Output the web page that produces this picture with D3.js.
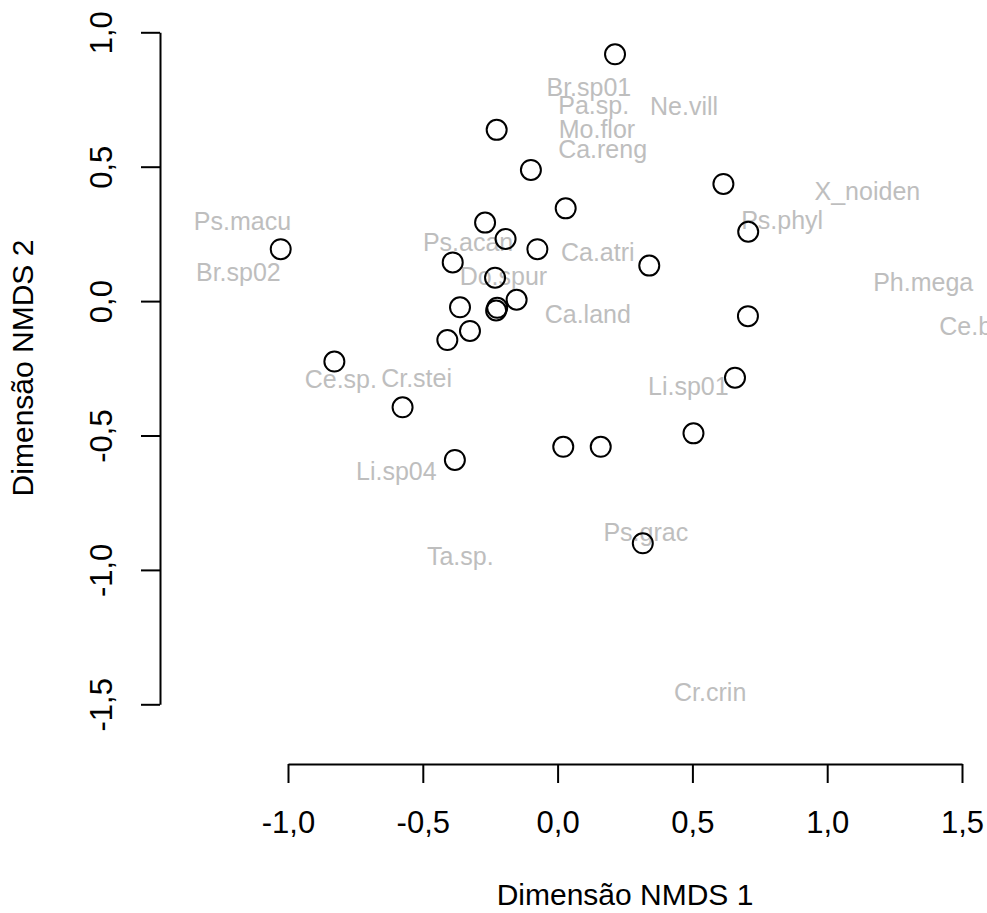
<!DOCTYPE html>
<html>
<head>
<meta charset="utf-8">
<script src="https://cdn.jsdelivr.net/npm/d3@7"></script>
<style>
  body { margin: 0; background: #fff; }
  svg { display: block; }
  text { font-family: "Liberation Sans", Arial, Helvetica, sans-serif; }
</style>
</head>
<body>
<div id="root"></div>
<script>
// site scores (NMDS 1, NMDS 2)
const siteX = [-1.027, -0.226, -0.099, 0.030, -0.269, -0.193, -0.075, -0.389, -0.232, -0.152,
  -0.362, -0.224, -0.228, -0.325, -0.409, -0.828, -0.575, -0.381, 0.021, 0.160,
  0.504, 0.658, 0.706, 0.316, 0.213, 0.615, 0.707, 0.340];
const siteY = [0.193, 0.637, 0.488, 0.345, 0.292, 0.231, 0.193, 0.144, 0.087, 0.005,
  -0.023, -0.025, -0.035, -0.111, -0.145, -0.225, -0.395, -0.591, -0.542, -0.542,
  -0.492, -0.285, -0.056, -0.901, 0.918, 0.436, 0.258, 0.132];

// species scores
const species = ["Ps.macu", "Br.sp02", "Ps.acan", "Do.spur", "Br.sp01", "Pa.sp.", "Ne.vill",
  "Mo.flor", "Ca.reng", "X_noiden", "Ps.phyl", "Ca.atri", "Ph.mega", "Ca.land", "Ce.bras",
  "Ce.sp.", "Cr.stei", "Li.sp01", "Li.sp04", "Ps.grac", "Ta.sp.", "Cr.crin"];
const speciesX = [-1.169, -1.184, -0.332, -0.201, 0.116, 0.134, 0.469,
  0.146, 0.167, 1.149, 0.833, 0.149, 1.356, 0.112, 1.578,
  -0.804, -0.523, 0.485, -0.598, 0.327, -0.361, 0.566];
const speciesY = [0.297, 0.107, 0.220, 0.092, 0.796, 0.729, 0.725,
  0.638, 0.564, 0.409, 0.300, 0.183, 0.071, -0.048, -0.094,
  -0.292, -0.286, -0.317, -0.633, -0.860, -0.949, -1.454];

const xTicks = [-1.0, -0.5, 0.0, 0.5, 1.0, 1.5];
const yTicks = [-1.5, -1.0, -0.5, 0.0, 0.5, 1.0];

const svg = d3.select("#root")
  .append("svg")
  .attr("width", 987)
  .attr("height", 913);

const x = d3.scaleLinear().domain([-1, 1.5]).range([288, 962]);
const y = d3.scaleLinear().domain([-1.5, 1]).range([704.3, 32.3]);

const fmt = d => d3.format(".1f")(d).replace(".", ",").replace("−", "-");

// species labels
svg.append("g")
  .selectAll("text")
  .data(species)
  .enter().append("text")
    .attr("x", (d, i) => x(speciesX[i]))
    .attr("y", (d, i) => y(speciesY[i]))
    .attr("dy", "0.35em")
    .attr("text-anchor", "middle")
    .attr("font-size", 25)
    .attr("fill", "#bebebe")
    .text(d => d);

// sites
svg.append("g")
  .selectAll("circle")
  .data(siteX)
  .enter().append("circle")
    .attr("cx", d => x(d))
    .attr("cy", (d, i) => y(siteY[i]))
    .attr("r", 10)
    .attr("fill", "none")
    .attr("stroke", "#000")
    .attr("stroke-width", 2);

// x axis
const gx = svg.append("g")
  .attr("transform", "translate(0,764)")
  .call(d3.axisBottom(x).tickValues(xTicks).tickFormat(fmt).tickSize(19).tickSizeOuter(0));
gx.selectAll("text")
  .attr("y", 69)
  .attr("dy", null)
  .attr("font-size", 31)
  .attr("font-family", null)
  .attr("fill", "#000");

// y axis
const gy = svg.append("g")
  .attr("transform", "translate(160,0)")
  .call(d3.axisLeft(y).tickValues(yTicks).tickFormat(fmt).tickSize(19).tickSizeOuter(0));
gy.selectAll("text")
  .attr("x", null)
  .attr("dy", null)
  .attr("transform", "translate(-48.3,0) rotate(-90)")
  .attr("text-anchor", "middle")
  .attr("font-size", 31)
  .attr("font-family", null)
  .attr("fill", "#000");

svg.selectAll(".domain, .tick line")
  .attr("stroke", "#000")
  .attr("stroke-width", 2);

// axis titles
svg.append("text")
  .attr("x", 625)
  .attr("y", 905)
  .attr("text-anchor", "middle")
  .attr("font-size", 30)
  .text("Dimensão NMDS 1");

svg.append("text")
  .attr("transform", "translate(33.3,368) rotate(-90)")
  .attr("text-anchor", "middle")
  .attr("font-size", 30)
  .text("Dimensão NMDS 2");
</script>
</body>
</html>
